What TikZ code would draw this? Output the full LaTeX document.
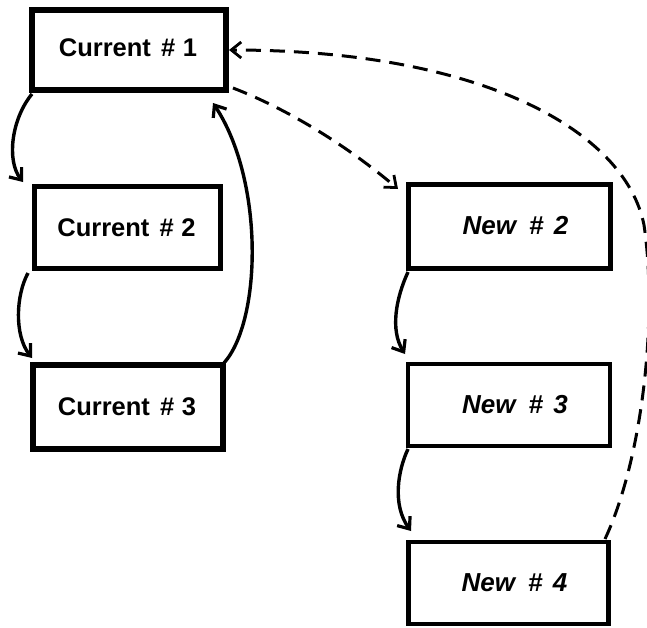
\documentclass[tikz,border=0pt]{standalone}
\usepackage{fontspec}
\setmainfont{Liberation Sans}
\usetikzlibrary{arrows.meta,calc}
\tikzset{
  box/.style={draw=black, rectangle, inner sep=0pt, fill=white},
  lbl/.style={font=\fontsize{25.5}{30}\selectfont\bfseries, inner sep=0pt},
  nlbl/.style={font=\fontsize{26}{30}\selectfont\bfseries\itshape, inner sep=0pt},
  link/.style={line width=3.4pt, -{Straight Barb[length=10pt,width=16pt,line width=3.2pt]}},
  dlink/.style={line width=3pt, dash pattern=on 15pt off 9pt, -{Straight Barb[length=10pt,width=16pt,line width=2.8pt]}}
}
\begin{document}
\begin{tikzpicture}[x=1pt,y=-1pt]
\useasboundingbox (0,0) rectangle (647,627);
% boxes
\node[box, line width=6pt, minimum width=194pt, minimum height=80pt] (c1) at (129,50) {};
\node[box, line width=5pt, minimum width=186pt, minimum height=82pt] (c2) at (127.5,227.5) {};
\node[box, line width=5.5pt, minimum width=190pt, minimum height=84pt] (c3) at (128,407) {};
\node[box, line width=4.5pt, minimum width=202pt, minimum height=84pt] (n2) at (509.5,226.5) {};
\node[box, line width=4.5pt, minimum width=202pt, minimum height=82pt] (n3) at (509,405) {};
\node[box, line width=4.5pt, minimum width=200pt, minimum height=82pt] (n4) at (508.5,583) {};
% labels
\node[lbl] (t1) at ([xshift=-1pt,yshift=2pt]c1.center) {Current\hspace{0.4em}\#\hspace{0.3em}1};
\node[lbl] (t2) at ([xshift=-1pt]c2.center) {Current\hspace{0.4em}\#\hspace{0.3em}2};
\node[lbl] (t3) at ([xshift=-1pt]c3.center) {Current\hspace{0.4em}\#\hspace{0.3em}3};
\node[nlbl] (t4) at ([xshift=6pt,yshift=1pt]n2.center) {New\hspace{0.5em}\#\hspace{0.4em}2};
\node[nlbl] (t5) at ([xshift=6pt]n3.center) {New\hspace{0.5em}\#\hspace{0.4em}3};
\node[nlbl] (t6) at ([xshift=6pt]n4.center) {New\hspace{0.5em}\#\hspace{0.4em}4};
% connector end points
\coordinate (a1) at (23,182);
\coordinate (a2) at (32,358);
\coordinate (a3) at (213,103);
\coordinate (a4) at (398,189);
\coordinate (a5) at (229,50);
\coordinate (a6) at (405,354);
\coordinate (a7) at (411,531);
\coordinate (s1) at (32,94);
\coordinate (s2) at (28,273);
\coordinate (s3) at (224,363);
\coordinate (s4) at (233,88);
\coordinate (s5) at (605,539);
\coordinate (s6) at (408,272);
\coordinate (s7) at (408,449);
\coordinate (m5) at (644,225);
% solid arrows
\draw[link] (s1) .. controls (12,118) and (6,160) .. (a1);
\draw[link] (s2) .. controls (16,295) and (14,335) .. (a2);
\draw[link] (s3) .. controls (262,320) and (264,180) .. (a3);
\draw[link] (s6) .. controls (396,298) and (390,330) .. (a6);
\draw[link] (s7) .. controls (398,470) and (392,505) .. (a7);
% dashed arrows
\draw[dlink] (s4) .. controls (290,110) and (350,148) .. (a4);
\draw[dlink] (s5) .. controls (642,460) and (658,320) .. (m5) .. controls (625,130) and (480,50) .. (a5);
\end{tikzpicture}
\end{document}
